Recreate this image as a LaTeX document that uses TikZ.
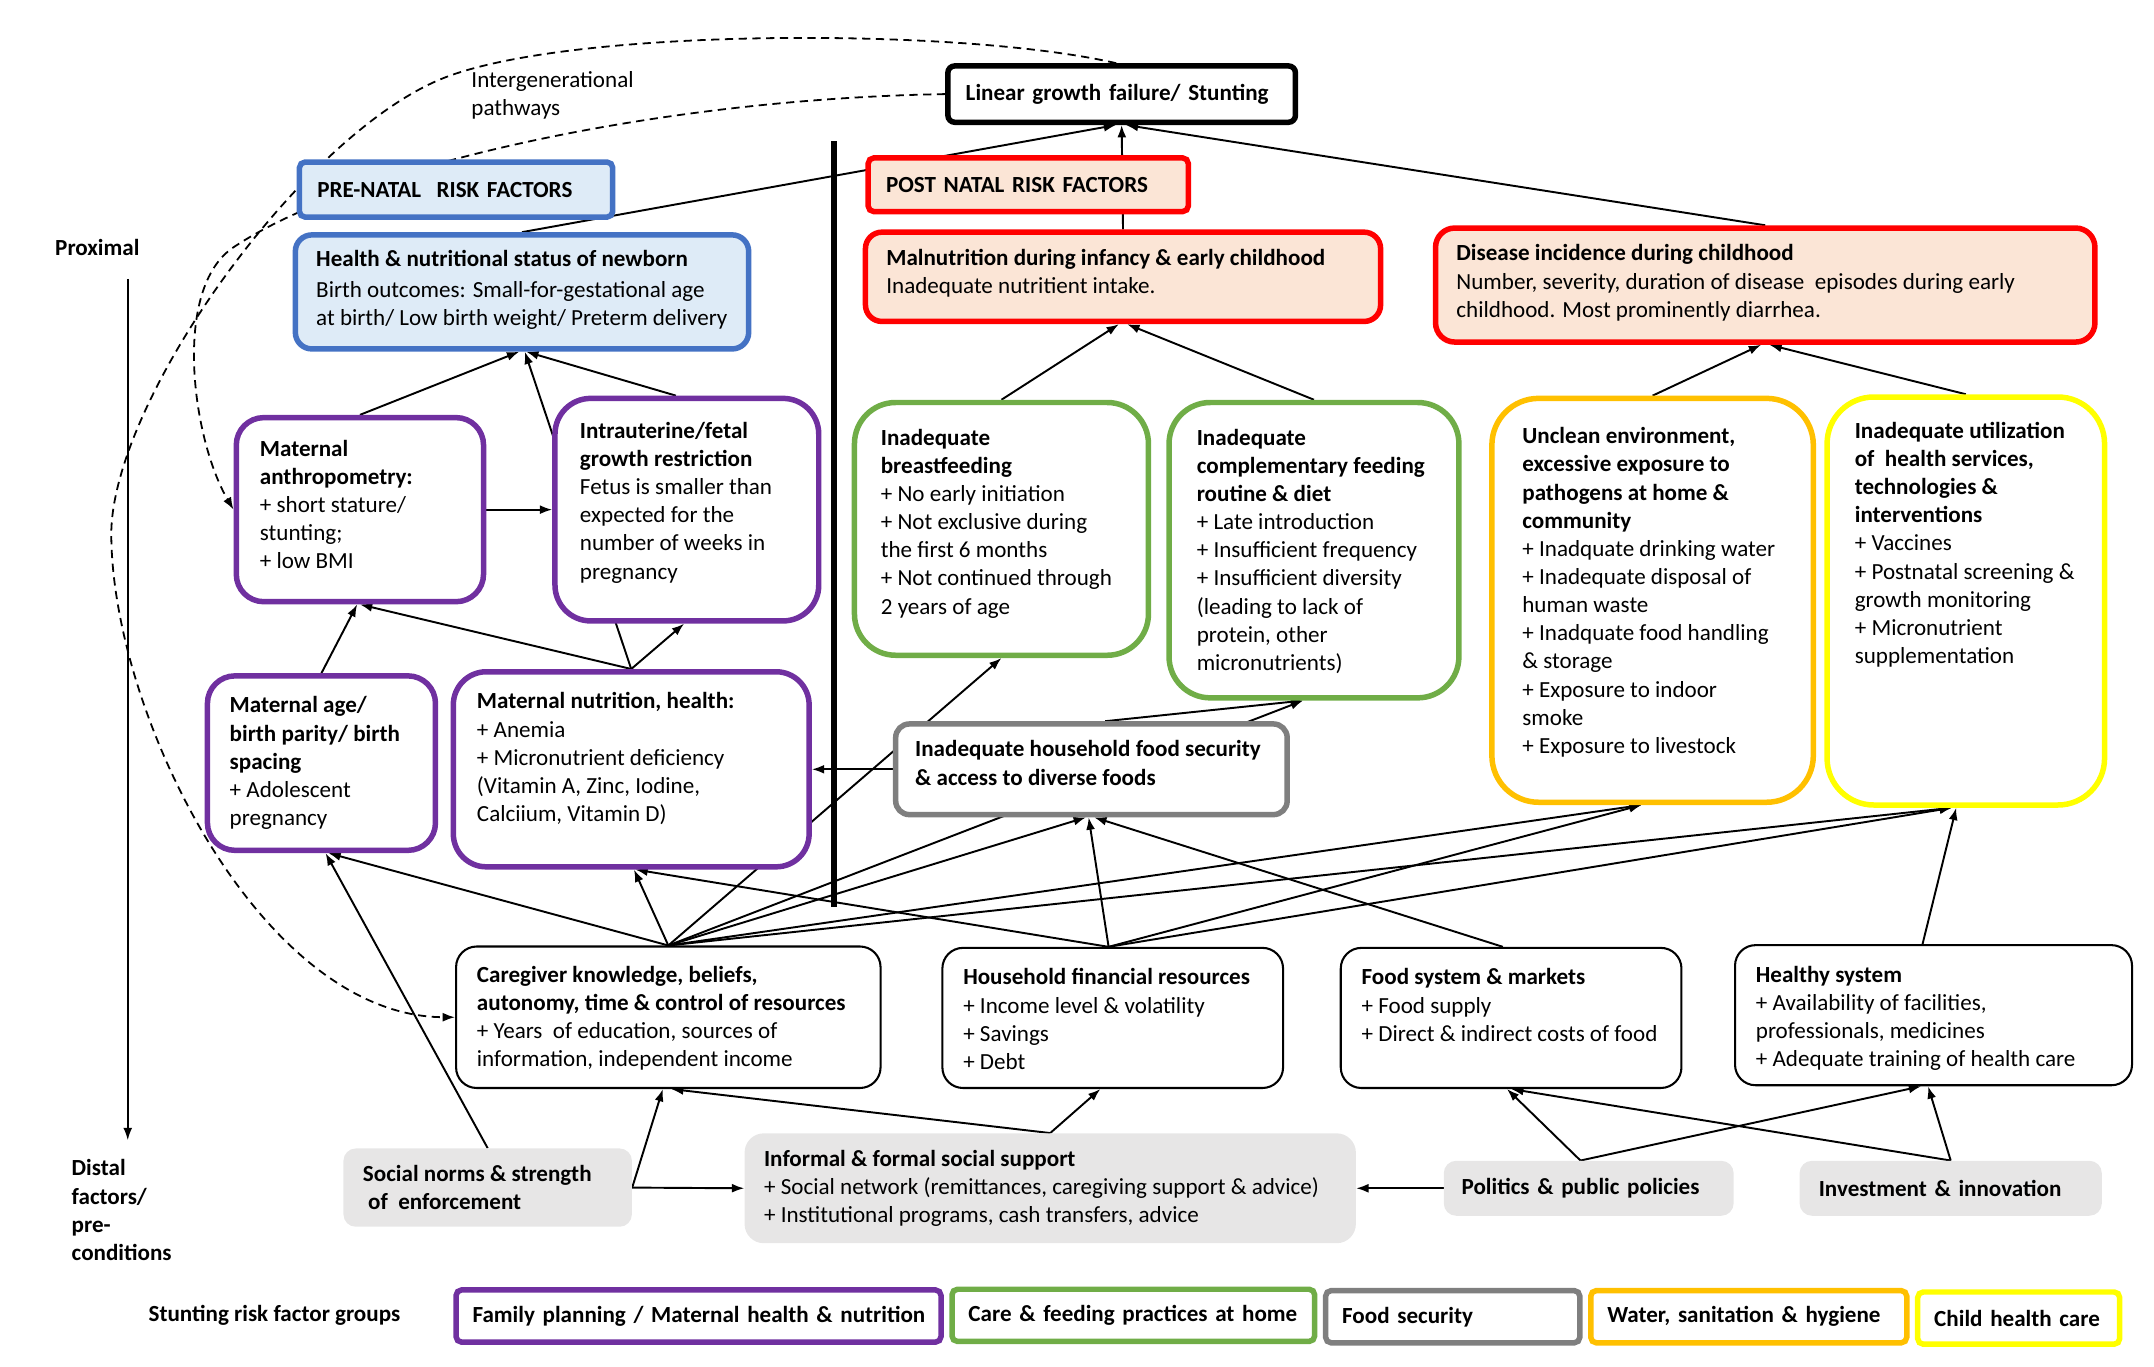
\documentclass[tikz,border=0pt]{standalone}
\usepackage{fontspec}
\setmainfont{Carlito}
\usetikzlibrary{arrows.meta,backgrounds}
\definecolor{mhpurple}{HTML}{7030A0}
\definecolor{carggreen}{HTML}{70AD47}
\definecolor{fsgray}{HTML}{7F7F7F}
\definecolor{washorange}{HTML}{FFC000}
\definecolor{chyellow}{HTML}{FFFF00}
\definecolor{preblue}{HTML}{4472C4}
\definecolor{prefill}{HTML}{DEEBF7}
\definecolor{postfill}{HTML}{FBE5D6}
\definecolor{distgray}{HTML}{E7E6E6}
\begin{document}
\begin{tikzpicture}[x=1pt, y=-1pt, >={Latex[length=9pt, width=6.5pt]},
  every node/.style={font=\fontsize{16.8}{20.5}\selectfont},
  box/.style={draw=#1, line width=4pt, fill=white, inner sep=0pt},
  plainbox/.style={draw=black, line width=1.5pt, fill=white, rounded corners=15pt, inner sep=0pt},
  greybox/.style={fill=distgray, rounded corners=9pt, inner sep=0pt},
  legendbox/.style={box=#1, rounded corners=4pt, minimum height=38, inner xsep=12pt, align=left},
  txt/.style={anchor=north west, align=left, inner sep=0pt},
  link/.style={->, line width=1.4pt},
  dashlink/.style={->, line width=1.3pt, dash pattern=on 6pt off 4pt}]
\useasboundingbox (0,0) rectangle (1568,994.4);

\node[box=black, rounded corners=5pt, minimum height=41, text width=227, inner xsep=13pt, align=left] (linear) at (816.5,68.5) {\mbox{\textbf{Linear growth failure/ Stunting}}};
\node[box=preblue, fill=prefill, rounded corners=4pt, minimum height=40, text width=202, inner xsep=13pt, align=left] (prenatal) at (332,138) {\mbox{\textbf{PRE-NATAL\ \ RISK FACTORS}}};
\node[box=red, fill=postfill, rounded corners=4pt, minimum height=39, text width=207, inner xsep=13pt, align=left] (postnatal) at (748.5,134.5) {\mbox{\textbf{POST NATAL RISK FACTORS}}};

\node[box=preblue, fill=prefill, rounded corners=12pt, minimum width=330, minimum height=83] (newborn) at (380,212.5) {};
\node[txt] (newborn-t) at (230,182) {\textbf{Health \& nutritional status of newborn}\\[2pt] Birth outcomes: Small-for-gestational age\\ at birth/ Low birth weight/ Preterm delivery};
\node[box=red, fill=postfill, rounded corners=12pt, minimum width=375, minimum height=65] (malnut) at (817.5,201.5) {};
\node[txt] (malnut-t) at (645,181) {\textbf{Malnutrition during infancy \& early childhood}\\ Inadequate nutritient intake.};
\node[box=red, fill=postfill, rounded corners=14pt, minimum width=480, minimum height=83] (disease) at (1285,207.5) {};
\node[txt] (disease-t) at (1060,178) {\textbf{Disease incidence during childhood}\\ Number, severity, duration of disease\ \ episodes during early\\ childhood. Most prominently diarrhea.};

\node[box=mhpurple, rounded corners=20pt, minimum width=180, minimum height=134] (anthro) at (262,371) {};
\node[txt] (anthro-t) at (189,320) {\textbf{Maternal}\\ \textbf{anthropometry:}\\ + short stature/\\ stunting;\\ + low BMI};
\node[box=mhpurple, rounded corners=26pt, minimum width=192, minimum height=162] (intra) at (500,371) {};
\node[txt] (intra-t) at (422,307) {\textbf{Intrauterine/fetal}\\ \textbf{growth restriction}\\ Fetus is smaller than\\ expected for the\\ number of weeks in\\ pregnancy};
\node[box=mhpurple, rounded corners=20pt, minimum width=166, minimum height=127] (matage) at (234,555.5) {};
\node[txt] (matage-t) at (167,507) {\textbf{Maternal age/}\\ \textbf{birth parity/ birth}\\ \textbf{spacing}\\ + Adolescent\\ pregnancy};
\node[box=mhpurple, rounded corners=24pt, minimum width=259, minimum height=142] (matnut) at (459.5,560) {};
\node[txt] (matnut-t) at (347,504) {\textbf{Maternal nutrition, health:}\\ + Anemia\\ + Micronutrient deficiency\\ (Vitamin A, Zinc, Iodine,\\ Calciium, Vitamin D)};

\node[box=carggreen, rounded corners=30pt, minimum width=214, minimum height=184] (breast) at (729,385) {};
\node[txt] (breast-t) at (641,312) {\textbf{Inadequate}\\ \textbf{breastfeeding}\\ + No early initiation\\ + Not exclusive during\\ the first 6 months\\ + Not continued through\\ 2 years of age};
\node[box=carggreen, rounded corners=30pt, minimum width=211, minimum height=215] (compl) at (956.5,400.5) {};
\node[txt] (compl-t) at (871,312) {\textbf{Inadequate}\\ \textbf{complementary feeding}\\ \textbf{routine \& diet}\\ + Late introduction\\ + Insufficient frequency\\ + Insufficient diversity\\ (leading to lack of\\ protein, other\\ micronutrients)};
\node[box=washorange, rounded corners=34pt, minimum width=234, minimum height=294] (unclean) at (1203,437) {};
\node[txt] (unclean-t) at (1108,311) {\textbf{Unclean environment,}\\ \textbf{excessive exposure to}\\ \textbf{pathogens at home \&}\\ \textbf{community}\\ + Inadquate drinking water\\ + Inadequate disposal of\\ human waste\\ + Inadquate food handling\\ \& storage\\ + Exposure to indoor\\ smoke\\ + Exposure to livestock};
\node[box=chyellow, rounded corners=34pt, minimum width=202, minimum height=297] (util) at (1431,437.5) {};
\node[txt] (util-t) at (1350,307) {\textbf{Inadequate utilization}\\ \textbf{of\ \ health services,}\\ \textbf{technologies \&}\\ \textbf{interventions}\\ + Vaccines\\ + Postnatal screening \&\\ growth monitoring\\ + Micronutrient\\ supplementation};
\node[box=fsgray, rounded corners=10pt, minimum width=285, minimum height=66] (foodsec) at (794.5,560) {};
\node[txt] (foodsec-t) at (666,539) {\textbf{Inadequate household food security}\\ \textbf{\& access to diverse foods}};

\node[plainbox, minimum width=309, minimum height=103] (caregiver) at (486.5,740.5) {};
\node[txt] (caregiver-t) at (347,703) {\textbf{Caregiver knowledge, beliefs,}\\ \textbf{autonomy, time \& control of resources}\\ + Years\ \ of education, sources of\\ information, independent income};
\node[plainbox, minimum width=248, minimum height=102] (finance) at (810,741) {};
\node[txt] (finance-t) at (701,705) {\textbf{Household financial resources}\\ + Income level \& volatility\\ + Savings\\ + Debt};
\node[plainbox, minimum width=248, minimum height=102] (market) at (1100,741) {};
\node[txt] (market-t) at (991,705) {\textbf{Food system \& markets}\\ + Food supply\\ + Direct \& indirect costs of food};
\node[plainbox, minimum width=289, minimum height=102] (healthsys) at (1407.5,739) {};
\node[txt] (healthsys-t) at (1278,703) {\textbf{Healthy system}\\ + Availability of facilities,\\ professionals, medicines\\ + Adequate training of health care};

\node[greybox, minimum width=210, minimum height=57] (norms) at (355,864.5) {};
\node[txt] (norms-t) at (264,848) {\textbf{Social norms \& strength}\\ \textbf{\ of\ \ enforcement}};
\node[greybox, rounded corners=14pt, minimum width=445, minimum height=80] (support) at (764.5,865) {};
\node[txt] (support-t) at (556,837) {\textbf{Informal \& formal social support}\\ + Social network (remittances, caregiving support \& advice)\\ + Institutional programs, cash transfers, advice};
\node[greybox, text width=185, inner xsep=13pt, minimum height=40, align=left] (politics) at (1156.5,865) {\mbox{\textbf{Politics \& public policies}}};
\node[greybox, text width=192, inner xsep=14pt, minimum height=40, align=left] (invest) at (1420,865) {\mbox{\textbf{Investment \& innovation}}};

\node[txt] (proximal) at (40,174) {\textbf{Proximal}};
\node[txt] (distal) at (52,844) {\textbf{Distal}\\ \textbf{factors/}\\ \textbf{pre-}\\ \textbf{conditions}};
\node[txt] (intergen) at (343,52) {Intergenerational\\ pathways};
\coordinate (axistop) at (93,203);
\coordinate (axisbot) at (93,830);
\coordinate (septop) at (607,103);
\coordinate (sepbot) at (607,660);

\node[txt] (groups) at (108,950) {\textbf{Stunting risk factor groups}};
\node[legendbox=mhpurple, text width=329] (lg-mh) at (508.5,958) {\mbox{\textbf{Family planning / Maternal health \& nutrition}}};
\node[legendbox=carggreen, text width=240] (lg-care) at (825,957.5) {\mbox{\textbf{Care \& feeding practices at home}}};
\node[legendbox=fsgray, text width=161] (lg-food) at (1057.5,958.5) {\mbox{\textbf{Food security}}};
\node[legendbox=washorange, text width=206] (lg-wash) at (1273,958.5) {\mbox{\textbf{Water, sanitation \& hygiene}}};
\node[legendbox=chyellow, text width=123] (lg-child) at (1469.5,959.5) {\mbox{\textbf{Child health care}}};

\begin{scope}[on background layer]
\draw[line width=4.5pt] (septop) -- (sepbot);
\draw[->, line width=1.2pt] (axistop) -- (axisbot);
\draw[dashlink] ([xshift=-4]linear.north) .. controls (700,20) and (420,20) .. (325,56) .. controls (222,95) and (82,290) .. (81,388) .. controls (81,520) and (190,740) .. (caregiver.west);
\draw[dashlink] (linear.west) .. controls (480,72) and (260,120) .. (170,180) .. controls (125,210) and (140,320) .. (anthro.west);

\draw[link] (newborn.north) -- ([xshift=-4]linear.south);
\draw[link] (malnut.north) -- (linear.south);
\draw[link] (disease.north) -- ([xshift=3]linear.south);
\draw[link] (anthro.north) -- ([xshift=-2]newborn.south);
\draw[link] (matnut.north) -- ([xshift=2]newborn.south);
\draw[link] ([xshift=-8]intra.north) -- ([xshift=3]newborn.south);
\draw[link] (anthro.east) -- (intra.west);
\draw[link] (matage.north) -- ([xshift=-2]anthro.south);
\draw[link] (matnut.north) -- (anthro.south);
\draw[link] (matnut.north) -- ([xshift=-2]intra.south);
\draw[link] (norms.north) -- ([xshift=3]matage.south);
\draw[link] (caregiver.north) -- ([xshift=5]matage.south);
\draw[link] (caregiver.north) -- ([xshift=2]matnut.south);
\draw[link] (caregiver.north) -- (breast.south);
\draw[link] (caregiver.north) -- ([xshift=-8]compl.south);
\draw[link] (caregiver.north) -- ([xshift=-4]foodsec.south);
\draw[link] (caregiver.north) -- ([xshift=-8]unclean.south);
\draw[link] (caregiver.north) -- ([xshift=-10]util.south);
\draw[link] ([xshift=-3]finance.north) -- ([xshift=-2]foodsec.south);
\draw[link] ([xshift=-3]finance.north) -- ([xshift=-8]unclean.south);
\draw[link] ([xshift=-3]finance.north) -- ([xshift=-10]util.south);
\draw[link] ([xshift=-3]finance.north) -- ([xshift=3]matnut.south);
\draw[link] ([xshift=-6]market.north) -- ([xshift=2]foodsec.south);
\draw[link] ([xshift=-8]healthsys.north) -- ([xshift=-7]util.south);
\draw[link] (foodsec.west) -- (matnut.east);
\draw[link] ([xshift=10]foodsec.north) -- ([xshift=-8]compl.south);
\draw[link] (breast.north) -- ([xshift=-3]malnut.south);
\draw[link] (compl.north) -- ([xshift=3]malnut.south);
\draw[link] (unclean.north) -- ([xshift=-3]disease.south);
\draw[link] (util.north) -- ([xshift=3]disease.south);
\draw[link] (norms.east) -- (support.west);
\draw[link] (norms.east) -- ([xshift=-4]caregiver.south);
\draw[link] (support.north) -- ([xshift=2]caregiver.south);
\draw[link] (support.north) -- ([xshift=-9]finance.south);
\draw[link] (politics.west) -- (support.east);
\draw[link] ([xshift=-6]politics.north) -- ([xshift=-3]market.south);
\draw[link] ([xshift=-6]politics.north) -- ([xshift=-9]healthsys.south);
\draw[link] (invest.north) -- (market.south);
\draw[link] (invest.north) -- ([xshift=-4]healthsys.south);
\end{scope}
\end{tikzpicture}
\end{document}
